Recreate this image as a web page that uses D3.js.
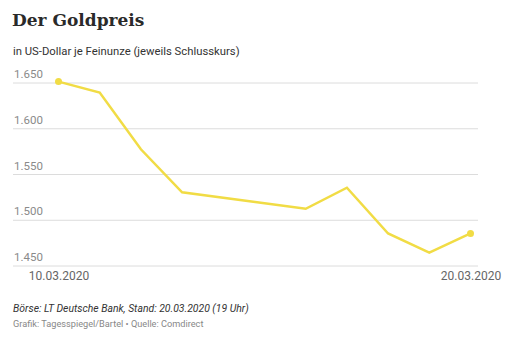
<!DOCTYPE html>
<html>
<head>
<meta charset="utf-8">
<script src="https://cdn.jsdelivr.net/npm/d3@7"></script>
<style>
  html, body { margin: 0; padding: 0; background: #fff; }
  svg { display: block; }
</style>
</head>
<body>
<svg id="chart" width="511" height="341"></svg>
<script>
// Gold closing prices, USD per troy ounce
const dates = ["2020-03-10", "2020-03-11", "2020-03-12", "2020-03-13",
               "2020-03-16", "2020-03-17", "2020-03-18", "2020-03-19", "2020-03-20"];
const prices = [1651, 1639, 1577, 1530, 1512, 1535, 1485, 1464, 1485];
const yTicks = [1450, 1500, 1550, 1600, 1650];
const xTickLabels = ["10.03.2020", "20.03.2020"];

const parse = d3.timeParse("%Y-%m-%d");
const data = dates.map((d, i) => ({ date: parse(d), value: prices[i] }));

const svg = d3.select("#chart");
const fontSans = "Roboto, 'Liberation Sans', sans-serif";

const x = d3.scaleTime()
  .domain(d3.extent(data, d => d.date))
  .range([58.5, 470.5]);
const y = d3.scaleLinear()
  .domain([1450, 1650])
  .range([265.5, 82.5]);

// Title and subtitle
svg.append("text")
  .attr("x", 12).attr("y", 26)
  .attr("font-family", "'DejaVu Serif', serif")
  .attr("font-weight", "bold")
  .attr("font-size", 17)
  .attr("fill", "#2a2a2a")
  .text("Der Goldpreis");

svg.append("text")
  .attr("x", 13).attr("y", 55)
  .attr("font-family", fontSans)
  .attr("font-size", 11.3)
  .attr("fill", "#333")
  .text("in US-Dollar je Feinunze (jeweils Schlusskurs)");

// Horizontal grid with labels sitting above each line
const yAxis = svg.append("g")
  .attr("transform", "translate(13,0)")
  .call(d3.axisRight(y)
    .tickValues(yTicks)
    .tickSize(465)
    .tickFormat(d => d3.format(",")(d).replace(",", ".")));
yAxis.select(".domain").remove();
yAxis.selectAll(".tick line").attr("stroke", "#dcdcdc").attr("stroke-width", 1);
yAxis.selectAll(".tick text")
  .attr("x", 1)
  .attr("dy", -5)
  .attr("text-anchor", "start")
  .attr("font-family", fontSans)
  .attr("font-size", 11.5)
  .attr("fill", "#8a8a8a");

// Date labels at the first and last point
const xAxis = svg.append("g")
  .attr("transform", "translate(0,266)")
  .call(d3.axisBottom(x)
    .tickValues([data[0].date, data[data.length - 1].date])
    .tickSize(0)
    .tickFormat((d, i) => xTickLabels[i]));
xAxis.select(".domain").remove();
xAxis.selectAll(".tick text")
  .attr("dy", 0)
  .attr("y", 14)
  .attr("font-family", fontSans)
  .attr("font-size", 12)
  .attr("fill", "#666");

// Price line
const line = d3.line().x(d => x(d.date)).y(d => y(d.value));
svg.append("path")
  .datum(data)
  .attr("d", line)
  .attr("fill", "none")
  .attr("stroke", "#f1dc45")
  .attr("stroke-width", 2.5)
  .attr("stroke-linejoin", "miter");

// End point markers
svg.selectAll("circle.end")
  .data([data[0], data[data.length - 1]])
  .join("circle")
  .attr("class", "end")
  .attr("cx", d => x(d.date))
  .attr("cy", d => y(d.value))
  .attr("r", 3.5)
  .attr("fill", "#f1dc45");

// Footer
svg.append("text")
  .attr("x", 13).attr("y", 312)
  .attr("font-family", fontSans)
  .attr("font-style", "italic")
  .attr("font-size", 10.4)
  .attr("fill", "#333")
  .text("Börse: LT Deutsche Bank, Stand: 20.03.2020 (19 Uhr)");

svg.append("text")
  .attr("x", 13).attr("y", 327)
  .attr("font-family", fontSans)
  .attr("font-size", 9.2)
  .attr("fill", "#888")
  .text("Grafik: Tagesspiegel/Bartel \u2022 Quelle: Comdirect");
</script>
</body>
</html>
